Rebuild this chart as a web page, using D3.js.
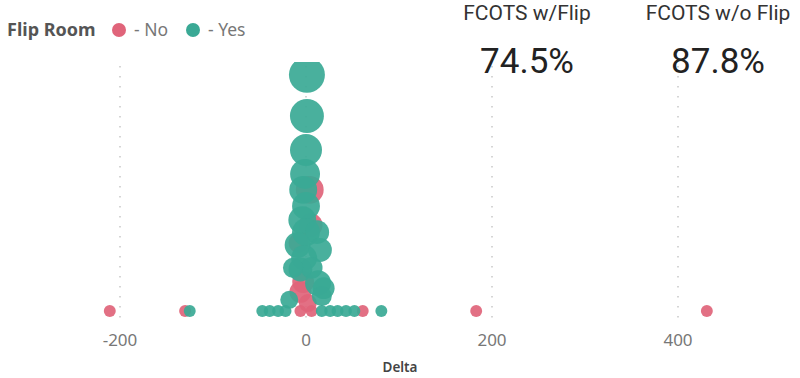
<!DOCTYPE html>
<html>
<head>
<meta charset="utf-8">
<script src="https://cdn.jsdelivr.net/npm/d3@7"></script>
<style>
  body { margin: 0; background: #fff; }
  svg { display: block; }
</style>
</head>
<body>
<svg id="chart" width="800" height="378"></svg>
<script>
// Flip room = Yes (teal): delta, hidden y measure, hidden size measure
var yesDelta = [1, 1, 0, -1, -3, 0, -4, 0, 12, -9, 15, -2, -6, 6, -14, 13, 19, -18, 17,
    -47, -39, -30, -22, 17, 26, 34, 43, 52, 81, -125];
var yesCases = [56.9, 47, 38.8, 33, 29.2, 25.3, 21.9, 19, 19, 15.9, 14.7, 12.8, 10, 10.4, 10.4, 6.7, 5.5, 2.7, 3.6,
    0, 0, 0, 0, 0, 0, 0, 0, 0, 0, 0];
var yesSize = [100, 89, 79, 69, 60, 60, 60, 60, 44, 52, 44, 52, 44, 37, 31, 52, 37, 25, 31,
    11, 11, 11, 11, 11, 11, 11, 11, 11, 11, 11];

// Flip room = No (red)
var noDelta = [-211, -130, 61, 183, 431, -6, 6, -6, 2, -3, 4, 5, -8];
var noCases = [0, 0, 0, 0, 0, 0, 0, 4.6, 1.9, 7, 29.2, 20.7, 16.4];
var noSize = [11, 11, 11, 11, 11, 11, 11, 37, 25, 37, 60, 44, 31];

var xTicks = [-200, 0, 200, 400];
var legendItems = ["No", "Yes"];
var colors = { No: "#e0647a", Yes: "#3aa995" };

var kpiTitles = ["FCOTS w/Flip", "FCOTS w/o Flip"];
var kpiValues = ["74.5%", "87.8%"];

var svg = d3.select("#chart");

var x = d3.scaleLinear().domain([-200, 400]).range([120, 678]);
var y = d3.scaleLinear().domain([0, 60]).range([311, 62]);
var r = d3.scaleSqrt().domain([0, 100]).range([0, 18]);

// gridlines
svg.append("g").selectAll("line").data(xTicks).enter().append("line")
    .attr("x1", d => x(d)).attr("x2", d => x(d))
    .attr("y1", 66).attr("y2", 324)
    .attr("stroke", "#c8c8c8")
    .attr("stroke-width", 1.5)
    .attr("stroke-dasharray", "1.5,8.5");

// tick labels
svg.append("g").selectAll("text").data(xTicks).enter().append("text")
    .attr("x", d => x(d)).attr("y", 346)
    .attr("text-anchor", "middle")
    .style("font-family", "'Noto Sans', 'Open Sans', sans-serif")
    .style("font-size", "17px")
    .style("fill", "#777")
    .text(d => d < 0 ? "-" + Math.abs(d) : d);

svg.append("text")
    .attr("x", 400).attr("y", 372)
    .attr("text-anchor", "middle")
    .style("font-family", "'Noto Sans', 'Open Sans', sans-serif")
    .style("font-size", "13.5px")
    .style("font-weight", "600")
    .style("fill", "#444")
    .text("Delta");

// points, clipped at plot top
svg.append("clipPath").attr("id", "plotclip")
    .append("rect").attr("x", 0).attr("y", 62).attr("width", 800).attr("height", 316);

var pts = [];
noDelta.forEach((d, i) => pts.push({ g: "No", delta: d, cases: noCases[i], size: noSize[i] }));
yesDelta.forEach((d, i) => pts.push({ g: "Yes", delta: d, cases: yesCases[i], size: yesSize[i] }));

svg.append("g").attr("clip-path", "url(#plotclip)")
    .selectAll("circle").data(pts).enter().append("circle")
    .attr("cx", d => x(d.delta))
    .attr("cy", d => y(d.cases))
    .attr("r", d => r(d.size))
    .attr("fill", d => colors[d.g])
    .attr("fill-opacity", 0.92);

// legend
var leg = svg.append("g").style("font-family", "'Noto Sans', 'Open Sans', sans-serif");
leg.append("text").attr("x", 7).attr("y", 36)
    .style("font-size", "18px").style("font-weight", "bold").style("fill", "#555")
    .text("Flip Room");
var legX = [119, 193];
legendItems.forEach((k, i) => {
    leg.append("circle").attr("cx", legX[i]).attr("cy", 30).attr("r", 7).attr("fill", colors[k]);
    leg.append("text").attr("x", legX[i] + 15).attr("y", 36)
        .style("font-size", "17.5px").style("fill", "#777")
        .text("- " + k);
});

// KPI cards
var kpiX = [527, 718];
kpiTitles.forEach((t, i) => {
    svg.append("text").attr("x", kpiX[i]).attr("y", 20)
        .attr("text-anchor", "middle")
        .style("font-family", "Roboto, sans-serif")
        .style("font-size", "21px")
        .style("fill", "#333")
        .text(t);
    svg.append("text").attr("x", kpiX[i]).attr("y", 73)
        .attr("text-anchor", "middle")
        .style("font-family", "Roboto, sans-serif")
        .style("font-size", "35px")
        .style("fill", "#222")
        .text(kpiValues[i]);
});
</script>
</body>
</html>
